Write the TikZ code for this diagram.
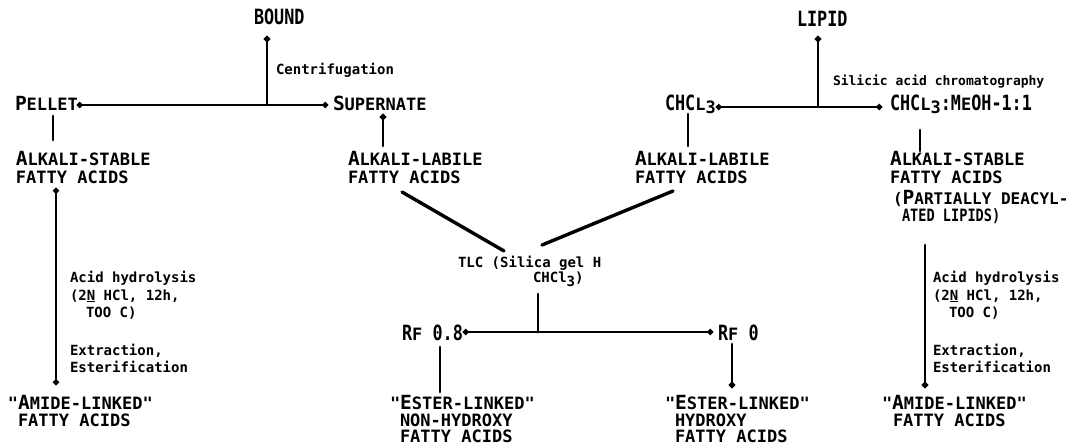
\documentclass[tikz,border=0pt]{standalone}
\usepackage{fontspec}
\usetikzlibrary{arrows.meta}
\newfontfamily\monof{DejaVu Sans Mono}
\newfontfamily\condf[FakeStretch=0.8]{DejaVu Sans Mono}
\newcommand{\bigc}[1]{{\condf\bfseries\fontsize{21}{21}\selectfont #1}}
\newcommand{\inic}[1]{{\monof\bfseries\fontsize{19.5}{19}\selectfont #1}}
\newcommand{\scc}[1]{{\monof\bfseries\fontsize{17}{17}\selectfont #1}}
\newcommand{\sccs}[1]{{\monof\bfseries\fontsize{16}{16}\selectfont #1}}
\newcommand{\sccn}[1]{{\condf\bfseries\fontsize{17}{17}\selectfont #1}}
\newcommand{\smt}{\monof\bfseries\fontsize{14}{16}\selectfont}
\begin{document}
\begin{tikzpicture}[x=1pt,y=-1pt,
  lbl/.style={anchor=base west, inner sep=0pt, outer sep=0pt},
  conn/.style={line width=2.8pt, line cap=round},
  dconn/.style={line width=3.4pt, line cap=round},
  dotS/.style={arrows={Circle[length=6pt]-}},
  dotE/.style={arrows={-Circle[length=6pt]}},
  dotB/.style={arrows={Circle[length=5.5pt]-Circle[length=5.5pt]}}]
\useasboundingbox (0,0) rectangle (1070,446);

% ---------- top labels ----------
\node[lbl] (bound) at (254,25) {\bigc{BOUND}};
\node[lbl] (lipid) at (797,27) {\bigc{LIPID}};
\node[lbl] (centr) at (276,75) {\smt Centrifugation};
\node[lbl] (silic) at (833,86) {\monof\bfseries\fontsize{13}{15}\selectfont Silicic acid chromatography};

\node[lbl] (pellet) at (15,111) {\inic{P}\scc{ELLET}};
\node[lbl] (super) at (333,111) {\inic{S}\scc{UPERNATE}};
\node[lbl] (chcla) at (665,111) {\bigc{CHC}\scc{L}\raisebox{-3pt}{\scc{3}}};
\node[lbl] (chclb) at (890,111) {\bigc{CHC}\scc{L}\raisebox{-3pt}{\scc{3}}\bigc{:M}\scc{E}\bigc{OH-1:1}};

% ---------- second row ----------
\node[lbl] (asLa) at (16,166) {\inic{A}\scc{LKALI-STABLE}};
\node[lbl] (asLb) at (16,184) {\scc{FATTY ACIDS}};
\node[lbl] (alMa) at (348,166) {\inic{A}\scc{LKALI-LABILE}};
\node[lbl] (alMb) at (348,184) {\scc{FATTY ACIDS}};
\node[lbl] (alRa) at (635,166) {\inic{A}\scc{LKALI-LABILE}};
\node[lbl] (alRb) at (635,184) {\scc{FATTY ACIDS}};
\node[lbl] (asRa) at (890,166) {\inic{A}\scc{LKALI-STABLE}};
\node[lbl] (asRb) at (890,184) {\scc{FATTY ACIDS}};
\node[lbl] (pda) at (893,205) {\sccs{(}\inic{P}\sccs{ARTIALLY DEACYL-}};
\node[lbl] (pdb) at (902,222) {\sccn{ATED LIPIDS)}};

% ---------- TLC ----------
\node[lbl] (tlca) at (458,267) {\smt TLC (Silica gel H};
\node[lbl] (tlcb) at (533,283) {\smt CHCl\raisebox{-3pt}{3})};

\node[lbl] (rfa) at (402,340) {\bigc{R}\scc{F\ }\bigc{0.8}};
\node[lbl] (rfb) at (718,340) {\bigc{R}\scc{F\ }\bigc{0}};

% ---------- procedure notes ----------
\node[lbl] (hLa) at (70,283) {\smt Acid hydrolysis};
\node[lbl] (hLb) at (70,300) {\smt (2\underline{N} HCl, 12h,};
\node[lbl] (hLc) at (86,317) {\smt TOO C)};
\node[lbl] (hLd) at (70,355) {\smt Extraction,};
\node[lbl] (hLe) at (70,372) {\smt Esterification};
\node[lbl] (hRa) at (933,283) {\smt Acid hydrolysis};
\node[lbl] (hRb) at (933,300) {\smt (2\underline{N} HCl, 12h,};
\node[lbl] (hRc) at (949,317) {\smt TOO C)};
\node[lbl] (hRd) at (933,355) {\smt Extraction,};
\node[lbl] (hRe) at (933,372) {\smt Esterification};

% ---------- bottom ----------
\node[lbl] (amLa) at (8,409) {\scc{"}\inic{A}\scc{MIDE-LINKED"}};
\node[lbl] (amLb) at (18,426) {\scc{FATTY ACIDS}};
\node[lbl] (esMa) at (390,409) {\scc{"}\inic{E}\scc{STER-LINKED"}};
\node[lbl] (esMb) at (400,426) {\scc{NON-HYDROXY}};
\node[lbl] (esMc) at (400,442) {\scc{FATTY ACIDS}};
\node[lbl] (esRa) at (665,409) {\scc{"}\inic{E}\scc{STER-LINKED"}};
\node[lbl] (esRb) at (675,426) {\scc{HYDROXY}};
\node[lbl] (esRc) at (675,442) {\scc{FATTY ACIDS}};
\node[lbl] (amRa) at (882,409) {\scc{"}\inic{A}\scc{MIDE-LINKED"}};
\node[lbl] (amRb) at (893,426) {\scc{FATTY ACIDS}};

% ---------- connector end points ----------
\coordinate (bndS) at (267,36);
\coordinate (j1) at (267,105);
\coordinate (pelE) at (77,105);
\coordinate (supE) at (328,105);
\coordinate (lipS) at (818,36);
\coordinate (j2) at (818,107);
\coordinate (chaE) at (716,107);
\coordinate (chbE) at (882,107);
\coordinate (pelD1) at (53,116);
\coordinate (pelD2) at (53,140);
\coordinate (supD1) at (383,114);
\coordinate (supD2) at (383,146);
\coordinate (chaD1) at (688,114);
\coordinate (chaD2) at (688,146);
\coordinate (chbD1) at (920,130);
\coordinate (chbD2) at (920,151);
\coordinate (lL1) at (56,188);
\coordinate (lL2) at (56,385);
\coordinate (lR1) at (925,245);
\coordinate (lR2) at (925,388);
\coordinate (dgL1) at (402,192);
\coordinate (dgL2) at (504,251);
\coordinate (dgR1) at (673,191);
\coordinate (dgR2) at (542,245);
\coordinate (tlcD) at (538,294);
\coordinate (j3) at (538,332);
\coordinate (rfaE) at (463,332);
\coordinate (rfbE) at (713,332);
\coordinate (rfaD1) at (440,347);
\coordinate (rfaD2) at (440,392);
\coordinate (rfbD1) at (732,344);
\coordinate (rfbD2) at (732,388);

% ---------- connectors ----------
\draw[conn,dotS] (bndS) -- (j1);
\draw[conn,dotB] (pelE) -- (supE);
\draw[conn,dotS] (lipS) -- (j2);
\draw[conn,dotB] (chaE) -- (chbE);
\draw[conn] (pelD1) -- (pelD2);
\draw[conn,dotS] (supD1) -- (supD2);
\draw[conn] (chaD1) -- (chaD2);
\draw[conn] (chbD1) -- (chbD2);
\draw[conn,dotB] (lL1) -- (lL2);
\draw[conn,dotE] (lR1) -- (lR2);
\draw[dconn] (dgL1) -- (dgL2);
\draw[dconn] (dgR1) -- (dgR2);
\draw[conn] (tlcD) -- (j3);
\draw[conn,dotB] (rfaE) -- (rfbE);
\draw[conn] (rfaD1) -- (rfaD2);
\draw[conn,dotE] (rfbD1) -- (rfbD2);
\end{tikzpicture}
\end{document}
